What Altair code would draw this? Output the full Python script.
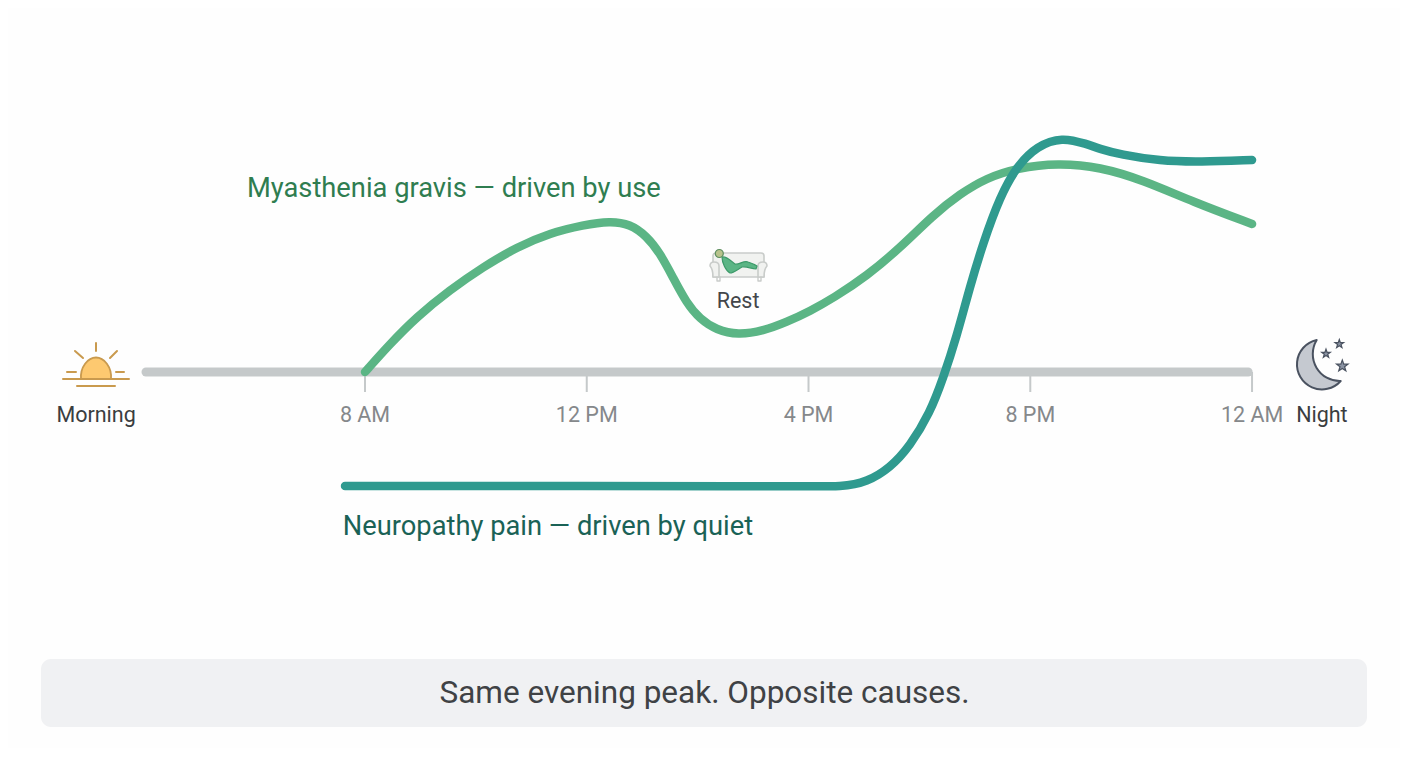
import altair as alt
import pandas as pd

# ---- data ----
tick_hours = [8, 12, 16, 20, 24]
tick_labels = ["8 AM", "12 PM", "4 PM", "8 PM", "12 AM"]
axis_hours = [4.05, 23.93]

mg_hours = [8.00, 8.45, 8.93, 9.53, 10.13, 10.74, 11.34, 11.94, 12.42, 12.78, 13.08, 13.32, 13.56, 13.80, 14.04, 14.34,
            14.73, 15.18, 15.61, 16.03, 16.45, 17.05, 17.65, 18.25, 18.73, 19.21, 19.76, 20.50, 21.26, 22.03, 22.94, 24.00]
mg_levels = [0, 28, 55, 82, 105, 125, 139, 147, 151, 148, 136, 119, 94, 69, 53, 42,
             37, 41, 50, 61, 74, 96, 124, 157, 178, 194, 204, 209, 205, 192, 170, 148]

np_hours = [7.64, 15.85, 16.62, 17.05, 17.47, 17.83, 18.19, 18.43, 18.67, 18.91, 19.15, 19.45, 19.76, 20.12, 20.57,
            21.02, 21.26, 21.62, 22.34, 23.06, 24.00]
np_levels = [-114, -114, -115, -110, -96, -74, -41, -6, 35, 85, 129, 175, 206, 226, 235,
             228, 223, 217.5, 211, 210, 212]

PX_PER_HOUR = 55.44
x_scale = alt.Scale(domain=[8 + (8 - 365) / PX_PER_HOUR, 8 + (1400 - 365) / PX_PER_HOUR], nice=False, zero=False)
y_scale = alt.Scale(domain=[-376, 364], nice=False, zero=False)
X = alt.X("h:Q", scale=x_scale, axis=None)
Y = alt.Y("v:Q", scale=y_scale, axis=None)

one = pd.DataFrame({"a": [0]})


def line(hours, levels, color, width, interp="basis"):
    df = pd.DataFrame({"h": hours, "v": levels})
    return alt.Chart(df).mark_line(color=color, strokeWidth=width, strokeCap="round", interpolate=interp).encode(x=X, y=Y)


def label(text, hour, level, color, size, align="center"):
    df = pd.DataFrame({"h": [hour], "v": [level], "t": [text]})
    return alt.Chart(df).mark_text(font="Roboto", fontSize=size, color=color, align=align, baseline="middle").encode(
        x=X, y=Y, text="t:N")


def icon(path, px, py, fill=None, stroke=None, sw=1.0):
    kw = dict(shape=path, size=4, opacity=1, strokeCap="round", strokeJoin="round")
    if fill:
        kw.update(fill=fill, fillOpacity=1)
    else:
        kw.update(fill="transparent")
    if stroke:
        kw.update(stroke=stroke, strokeWidth=sw)
    else:
        kw.update(strokeWidth=0)
    return alt.Chart(one).mark_point(**kw).encode(x=alt.value(px - 8), y=alt.value(py - 8))


layers = []

# caption box
layers.append(alt.Chart(one).mark_rect(color="#f0f1f3", cornerRadius=10).encode(
    x=alt.value(41 - 8), x2=alt.value(1367 - 8), y=alt.value(659 - 8), y2=alt.value(727 - 8)))
layers.append(alt.Chart(pd.DataFrame({"t": ["Same evening peak. Opposite causes."]})).mark_text(
    font="Roboto", fontSize=31.5, color="#3f4245", align="center", baseline="middle").encode(
    x=alt.value(704.5 - 8), y=alt.value(694 - 8), text="t:N"))

# time axis
ticks_df = pd.DataFrame({"h": tick_hours, "v": [0] * 5, "v2": [-20] * 5, "t": tick_labels, "lv": [-44] * 5})
layers.append(alt.Chart(ticks_df).mark_rule(color="#c5c9ca", strokeWidth=2).encode(x=X, y=Y, y2="v2:Q"))
layers.append(line(axis_hours, [0, 0], "#c5c9ca", 9, "linear"))
layers.append(alt.Chart(ticks_df).mark_text(font="Roboto", fontSize=21.5, color="#85888b", align="center", baseline="middle").encode(
    x=X, y=alt.Y("lv:Q", scale=y_scale, axis=None), text="t:N"))

# curves
layers.append(line(mg_hours, mg_levels, "#5bb585", 8.5))
layers.append(line(np_hours, np_levels, "#2f9a8f", 8.5))

# series labels
layers.append(label("Myasthenia gravis — driven by use", 5.87, 183, "#2f7d50", 27.3, "left"))
layers.append(label("Neuropathy pain — driven by quiet", 7.60, -155, "#1a6256", 27.3, "left"))
layers.append(label("Rest", 14.73, 70, "#43464a", 21.5))
layers.append(label("Morning", 3.15, -44, "#3a3d40", 21.5))
layers.append(label("Night", 25.26, -44, "#3a3d40", 21.5))

# sun
SUN_LINE = "#c99a4e"
layers.append(icon("M-15,0 C-16,-12 -8,-21.5 0,-21.5 C8,-21.5 16,-12 15,0 Z", 96, 379, "#fdc970", SUN_LINE, 1.8))
layers.append(icon("M-33,0 L33,0 M-19,7 L19,7", 96, 379, None, SUN_LINE, 2))
layers.append(icon("M0,-36 L0,-28 M-21,-28 L-13,-21 M21,-28 L14,-21 M-29,-7 L-20,-7 M20,-7 L28,-7", 96, 379, None, SUN_LINE, 2))

# sofa with resting figure
SOFA = "#c9ccca"
layers.append(icon("M-27,-9 Q-27,-12 -24,-12 L21,-12 Q24,-12 24,-9 L24,12 L-27,12 Z", 740, 265, "#f1f2f0", SOFA, 1.6))
layers.append(icon("M-30,1 Q-30,-3 -26,-3 Q-21,-3 -21,1 L-21,12 L-27,12 Q-27,4 -30,1 Z", 740, 265, "#f1f2f0", SOFA, 1.6))
layers.append(icon("M27,1 Q27,-3 23,-3 Q18,-3 18,1 L18,12 L24,12 Q24,4 27,1 Z", 740, 265, "#f1f2f0", SOFA, 1.6))
layers.append(icon("M-23,12 L-23,16 L-20,16 L-20,12 M18,12 L18,16 L21,16 L21,12", 740, 265, None, SOFA, 1.4))
layers.append(icon("M-18,-8 C-13,-9 -8,-3 -5,-1 C-1,0 4,-5 8,-3 C11,-2 14,-1 17,1 L16,4 C11,4 7,1 2,2 C-2,4 -6,8 -10,8 C-14,6 -18,-2 -18,-8 Z",
                   740, 265, "#5bb585", "#3d9a6a", 1.2))
layers.append(icon("M-4,0 A4,4 0 1 1 4,0 A4,4 0 1 1 -4,0 Z", 719.3, 253.5, "#b8c28c", "#5d8f5f", 1.2))

# moon and stars
MOON = "#4a5260"
layers.append(icon("M-3.3,-25.5 A25,25 0 1 0 20.7,15.5 A27,27 0 0 1 -3.3,-25.5 Z", 1320, 365.5, "#c5c9d0", MOON, 2))
STAR = "M0,-1 L.24,-.31 L.95,-.31 L.38,.12 L.59,.81 L0,.4 L-.59,.81 L-.38,.12 L-.95,-.31 L-.24,-.31 Z"


def star(px, py, r):
    s = dict(shape=STAR, size=4 * r * r, fill="#8a93a3", fillOpacity=1, stroke=MOON, strokeWidth=1.2, opacity=1)
    return alt.Chart(one).mark_point(**s).encode(x=alt.value(px - 8), y=alt.value(py - 8))


layers.append(star(1339.3, 344, 4.5))
layers.append(star(1326, 353.7, 4.5))
layers.append(star(1342.3, 366, 6))

chart = alt.layer(*layers).properties(
    width=1392, height=740, padding=0, autosize=alt.AutoSizeParams(type="none"), background="#fefefe"
).configure_view(stroke=None)

chart.save("out.html", embed_options={"renderer": "svg", "actions": False})
